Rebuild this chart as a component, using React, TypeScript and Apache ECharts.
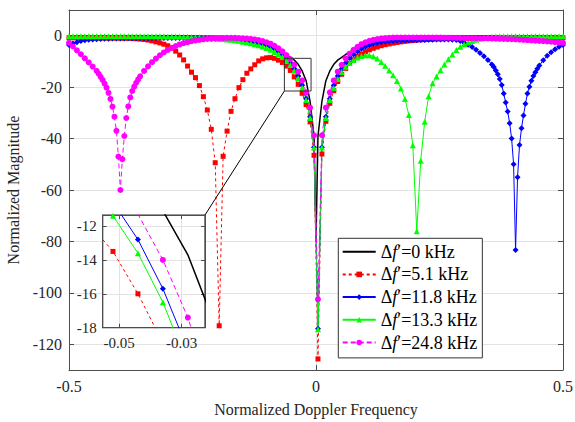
import React, { useEffect, useRef } from "react";
import * as echarts from "echarts";

// ---------- data ----------
const freq = [
  -0.5, -0.492, -0.484, -0.476, -0.468, -0.46, -0.452, -0.444, -0.436, -0.428,
  -0.42, -0.412, -0.404, -0.396, -0.388, -0.38, -0.372, -0.364, -0.356, -0.348,
  -0.34, -0.332, -0.324, -0.316, -0.308, -0.3, -0.292, -0.284, -0.276, -0.268,
  -0.26, -0.252, -0.244, -0.236, -0.228, -0.22, -0.212, -0.204, -0.196, -0.188,
  -0.18, -0.172, -0.164, -0.156, -0.148, -0.14, -0.132, -0.124, -0.116, -0.108,
  -0.1, -0.092, -0.084, -0.076, -0.068, -0.06, -0.052, -0.044, -0.036, -0.028,
  -0.02, -0.012, -0.004, 0.004, 0.012, 0.02, 0.028, 0.036, 0.044, 0.052,
  0.06, 0.068, 0.076, 0.084, 0.092, 0.1, 0.108, 0.116, 0.124, 0.132,
  0.14, 0.148, 0.156, 0.164, 0.172, 0.18, 0.188, 0.196, 0.204, 0.212,
  0.22, 0.228, 0.236, 0.244, 0.252, 0.26, 0.268, 0.276, 0.284, 0.292,
  0.3, 0.308, 0.316, 0.324, 0.332, 0.34, 0.348, 0.356, 0.364, 0.372,
  0.38, 0.388, 0.396, 0.404, 0.412, 0.42, 0.428, 0.436, 0.444, 0.452,
  0.46, 0.468, 0.476, 0.484, 0.492, 0.5,
];

const blackFreq = [
  -0.5, -0.4, -0.3, -0.25, -0.2, -0.18, -0.164, -0.148, -0.132, -0.116,
  -0.1, -0.084, -0.068, -0.06, -0.052, -0.044, -0.036, -0.028, -0.02, -0.012,
  -0.004, 0, 0.004, 0.012, 0.02, 0.028, 0.036, 0.044, 0.052, 0.06,
  0.068, 0.084, 0.1, 0.116, 0.132, 0.148, 0.164, 0.18, 0.2, 0.25,
  0.3, 0.4, 0.5,
];
const blackMag = [
  0, 0, -0.05, -0.1, -0.2, -0.35, -0.55, -0.9, -1.5, -2.2,
  -3.2, -4.6, -6.3, -7.3, -8.4, -9.5, -11.1, -13.7, -17.5, -25.5,
  -39, -80, -39, -25.5, -17.5, -13.7, -11.1, -9.5, -8.4, -7.3,
  -6.3, -4.6, -3.2, -2.2, -1.5, -0.9, -0.55, -0.35, -0.2, -0.1,
  -0.05, 0, 0,
];

const redMag = [
  -0.8, -0.8, -0.8, -0.8, -0.8, -0.8, -0.8, -0.8, -0.82, -0.84,
  -0.86, -0.88, -0.9, -0.92, -0.95, -1.0, -1.1, -1.2, -1.3, -1.45,
  -1.7, -2.0, -2.4, -2.8, -3.3, -3.9, -4.8, -6.0, -7.5, -9.4,
  -11.8, -14.2, -16.3, -19.4, -23.7, -28.9, -36.4, -49.4, -112.8, -46.9,
  -37.1, -29.4, -24.5, -20.2, -17.1, -14.6, -12.9, -11.3, -9.8, -9.0,
  -8.6, -8.5, -8.8, -9.5, -10.4, -11.8, -13.5, -16.0, -18.9, -22.4,
  -26.8, -33.5, -46.5, -125.7, -46.0, -33.3, -26.3, -21.4, -17.8, -15.0,
  -12.7, -10.8, -9.3, -8.1, -7.1, -6.2, -5.5, -4.9, -4.4, -3.9,
  -3.5, -3.2, -2.9, -2.65, -2.4, -2.2, -2.0, -1.85, -1.7, -1.6,
  -1.5, -1.4, -1.3, -1.25, -1.2, -1.15, -1.1, -1.05, -1.0, -1.0,
  -0.95, -0.95, -0.9, -0.9, -0.9, -0.88, -0.86, -0.85, -0.84, -0.83,
  -0.82, -0.82, -0.81, -0.81, -0.8, -0.8, -0.8, -0.8, -0.8, -0.8,
  -0.8, -0.8, -0.8, -0.8, -0.8, -0.8,
];

const blueMag = [
  -3.6, -3.0, -2.5, -2.1, -1.8, -1.6, -1.45, -1.35, -1.25, -1.2,
  -1.15, -1.1, -1.1, -1.05, -1.05, -1.0, -1.0, -1.0, -0.95, -0.95,
  -0.95, -0.9, -0.9, -0.9, -0.9, -0.9, -0.9, -0.9, -0.9, -0.9,
  -0.95, -0.95, -1.0, -1.0, -1.05, -1.1, -1.15, -1.2, -1.25, -1.3,
  -1.4, -1.5, -1.6, -1.7, -1.85, -2.0, -2.3, -2.5, -2.8, -3.2,
  -3.7, -4.3, -5.1, -6.1, -7.3, -8.8, -10.6, -12.8, -15.7, -19.3,
  -24.5, -31.5, -43.4, -114.0, -43.4, -31.5, -24.5, -19.3, -15.7, -12.8,
  -10.6, -8.8, -7.3, -6.1, -5.1, -4.3, -3.7, -3.2, -2.8, -2.5,
  -2.3, -2.15, -2.05, -2.0, -1.95, -1.9, -1.85, -1.8, -1.75, -1.7,
  -1.65, -1.6, -1.55, -1.5, -1.5, -1.5, -1.5, -1.55, -1.7, -2.1,
  -2.7, -3.5, -4.4, -5.5, -6.7, -8.0, -9.4, -11.2, -13.5, -16.8,
  -22.5, -29.5, -40.0, -83.3, -42.5, -31.0, -22.5, -17.5, -14.2, -11.6,
  -9.5, -7.8, -6.4, -5.3, -4.3, -3.6,
];
const blueExtraFreq = [0.36, 0.368, 0.376, 0.384, 0.392, 0.4, 0.408, 0.416, 0.424, 0.432, 0.44, 0.448];
const blueExtraMag = [-12.2, -15.0, -19.2, -26.0, -34.0, -50.0, -55.0, -36.0, -26.5, -19.8, -15.7, -12.8];

const greenMag = [
  -0.2, -0.2, -0.2, -0.2, -0.2, -0.2, -0.2, -0.2, -0.2, -0.2,
  -0.2, -0.2, -0.2, -0.2, -0.2, -0.2, -0.2, -0.2, -0.2, -0.2,
  -0.2, -0.2, -0.2, -0.22, -0.24, -0.26, -0.28, -0.3, -0.35, -0.4,
  -0.45, -0.5, -0.55, -0.6, -0.7, -0.8, -0.9, -1.0, -1.15, -1.3,
  -1.45, -1.6, -1.8, -2.0, -2.3, -2.6, -2.9, -3.3, -3.7, -4.2,
  -4.8, -5.5, -6.3, -7.2, -8.3, -9.7, -11.4, -13.6, -16.5, -20.2,
  -25.0, -32.0, -43.5, -114.2, -43.5, -32.0, -25.0, -20.3, -16.8, -14.1,
  -12.1, -10.6, -9.4, -8.5, -7.9, -7.6, -7.6, -8.0, -8.9, -10.2,
  -11.7, -13.5, -15.4, -17.6, -20.5, -24.6, -30.8, -42.6, -76.0, -48.6,
  -33.5, -23.5, -18.5, -15.9, -13.4, -11.2, -9.2, -7.3, -5.6, -4.3,
  -3.3, -2.6, -2.1, -1.6, -1.2, -0.9, -0.6, -0.4, -0.3, -0.25,
  -0.2, -0.2, -0.2, -0.2, -0.2, -0.2, -0.2, -0.2, -0.2, -0.2,
  -0.2, -0.2, -0.2, -0.2, -0.2, -0.2,
];

const magentaMag = [
  -2.8, -4.2, -5.7, -7.2, -8.8, -10.4, -12.0, -13.7, -16.0, -18.6,
  -22.2, -27.6, -37.0, -60.0, -39.0, -27.5, -21.5, -18.3, -15.8, -13.7,
  -11.9, -10.3, -8.9, -7.6, -6.5, -5.5, -4.7, -4.0, -3.4, -2.9,
  -2.5, -2.15, -1.85, -1.6, -1.4, -1.25, -1.1, -1.0, -0.95, -0.9,
  -0.85, -0.85, -0.85, -0.9, -1.0, -1.1, -1.25, -1.45, -1.7, -2.05,
  -2.6, -3.1, -3.9, -4.9, -6.1, -7.5, -9.1, -11.3, -14.0, -17.4,
  -22.0, -28.0, -38.7, -102.5, -38.7, -28.0, -22.0, -17.4, -14.0, -11.3,
  -8.8, -7.0, -5.5, -4.3, -3.3, -2.6, -2.0, -1.6, -1.3, -1.05,
  -0.9, -0.8, -0.75, -0.7, -0.7, -0.7, -0.7, -0.7, -0.7, -0.7,
  -0.7, -0.7, -0.7, -0.72, -0.74, -0.76, -0.78, -0.8, -0.82, -0.85,
  -0.88, -0.9, -0.92, -0.95, -0.98, -1.0, -1.05, -1.1, -1.15, -1.2,
  -1.25, -1.3, -1.35, -1.4, -1.5, -1.6, -1.7, -1.8, -1.9, -2.0,
  -2.1, -2.2, -2.35, -2.5, -2.65, -2.8,
];
const magentaExtraFreq = [-0.44, -0.432, -0.424, -0.416, -0.408, -0.4, -0.392, -0.384, -0.376, -0.368, -0.36];
const magentaExtraMag = [-14.8, -17.2, -20.2, -24.6, -31.5, -47.0, -48.0, -32.0, -24.0, -19.8, -17.0];

const seriesNames = ["Δf′=0 kHz", "Δf′=5.1 kHz", "Δf′=11.8 kHz", "Δf′=13.3 kHz", "Δf′=24.8 kHz"];
const legendValues = ["0", "5.1", "11.8", "13.3", "24.8"];

const xRange = [-0.5, 0.5];
const xInterval = 0.5;
const yRange = [-130, 10];
const yTicks = [-120, -100, -80, -60, -40, -20, 0];
const insetXRange = [-0.0553, -0.0225];
const insetYRange = [-18, -11.35];
const insetXTicks = [-0.05, -0.03];
const insetYTicks = [-18, -16, -14, -12];
const zoomBoxX = [-0.064, -0.01];
const zoomBoxY = [-21.5, -8.8];

// ---------- styles & layout ----------
const FONT = "Liberation Serif";
const AXIS_COLOR = "#4d4d4d";
const TEXT_COLOR = "#262626";
const GRID_COLOR = "#e3e3e3";
const MAIN_GRID = { left: 69, top: 10, width: 494, height: 360 };
const INSET_GRID = { left: 102.7, top: 215, width: 102.3, height: 112.7 };

const styles: any[] = [
  { color: "#000000", symbol: "none", size: 0, dash: "solid", width: 1.5 },
  { color: "#ff0000", symbol: "rect", size: 5, dash: [3, 3], width: 1 },
  { color: "#0000ff", symbol: "diamond", size: 6, dash: "solid", width: 1 },
  { color: "#00ff00", symbol: "triangle", size: 6, dash: "solid", width: 1 },
  { color: "#ff00ff", symbol: "circle", size: 6, dash: [5, 3], width: 1 },
];

const zip = (xs: number[], ys: number[]) => xs.map((x, i) => [x, ys[i]]);
const mergeSorted = (a: number[][], b: number[][]) => [...a, ...b].sort((p, q) => p[0] - q[0]);

const seriesData = [
  zip(blackFreq, blackMag),
  zip(freq, redMag),
  mergeSorted(zip(freq, blueMag), zip(blueExtraFreq, blueExtraMag)),
  zip(freq, greenMag),
  mergeSorted(zip(freq, magentaMag), zip(magentaExtraFreq, magentaExtraMag)),
];

const lineSeries = (i: number, name: string, xAxisIndex: number, yAxisIndex: number, z: number) => ({
  type: "line",
  name,
  data: seriesData[i],
  xAxisIndex,
  yAxisIndex,
  z,
  symbol: styles[i].symbol,
  symbolSize: styles[i].size,
  showSymbol: styles[i].symbol !== "none",
  lineStyle: { color: styles[i].color, width: styles[i].width, type: styles[i].dash },
  itemStyle: { color: styles[i].color, borderWidth: 0 },
  silent: true,
  clip: true,
  animation: false,
  emphasis: { disabled: true },
});

const labelStyle = (size: number) => ({ fontFamily: FONT, fontSize: size, color: TEXT_COLOR });

const axisBase = (gridIndex: number, min: number, max: number, position: string, extra: any) => ({
  type: "value",
  gridIndex,
  min,
  max,
  position,
  axisLine: { show: true, onZero: false, lineStyle: { color: AXIS_COLOR, width: 1 } },
  axisTick: { show: true, inside: true, length: 5, lineStyle: { color: AXIS_COLOR, width: 1 } },
  ...extra,
});

export default function App() {
  const ref = useRef<HTMLDivElement>(null);

  useEffect(() => {
    const el = ref.current!;
    const chart = echarts.init(el, null, { renderer: "svg" });

    const option: any = {
      animation: false,
      textStyle: { fontFamily: FONT },
      grid: [
        { ...MAIN_GRID, containLabel: false, outerBoundsMode: "none" },
        { ...INSET_GRID, containLabel: false, outerBoundsMode: "none" },
      ],
      legend: {
        data: seriesNames.map((name, i) =>
          i === 0 ? { name, itemStyle: { opacity: 0 } } : { name }
        ),
        orient: "vertical",
        left: 338.3,
        top: 238.3,
        backgroundColor: "#ffffff",
        borderColor: "#333333",
        borderWidth: 1,
        borderRadius: 0,
        padding: [4.4, 5, 6.4, 3.4],
        itemWidth: 33,
        itemHeight: 7,
        itemGap: 4.7,
        selectedMode: false,
        z: 20,
        textStyle: {
          fontFamily: FONT,
          fontSize: 18,
          lineHeight: 18,
          color: "#000",
          rich: {
            n: { fontFamily: FONT, fontSize: 18, color: "#000" },
            i: { fontFamily: FONT, fontSize: 18, fontStyle: "italic", color: "#000" },
          },
        },
        formatter: (name: string) => {
          const idx = seriesNames.indexOf(name);
          return `{n|Δ}{i|f}{n|′=${legendValues[idx]} kHz}`;
        },
      },
      xAxis: [
        axisBase(0, xRange[0], xRange[1], "bottom", {
          interval: xInterval,
          axisLabel: { ...labelStyle(16), margin: 8 },
          splitLine: { show: true, lineStyle: { color: GRID_COLOR, width: 1 } },
          name: "Normalized Doppler Frequency",
          nameLocation: "middle",
          nameGap: 31,
          nameTextStyle: labelStyle(16),
        }),
        axisBase(0, xRange[0], xRange[1], "top", {
          interval: xInterval,
          axisLabel: { show: false },
          splitLine: { show: false },
        }),
        axisBase(1, insetXRange[0], insetXRange[1], "bottom", {
          z: 10,
          axisTick: { show: true, inside: true, length: 4, customValues: insetXTicks, lineStyle: { color: AXIS_COLOR } },
          axisLabel: { ...labelStyle(15), margin: 8, customValues: insetXTicks },
          splitLine: { show: true, lineStyle: { color: GRID_COLOR, width: 1 } },
        }),
        axisBase(1, insetXRange[0], insetXRange[1], "top", {
          z: 10,
          axisTick: { show: true, inside: true, length: 4, customValues: insetXTicks, lineStyle: { color: AXIS_COLOR } },
          axisLabel: { show: false },
          splitLine: { show: false },
        }),
      ],
      yAxis: [
        axisBase(0, yRange[0], yRange[1], "left", {
          axisTick: { show: true, inside: true, length: 5, customValues: yTicks, lineStyle: { color: AXIS_COLOR } },
          axisLabel: { ...labelStyle(16), margin: 7, customValues: yTicks },
          splitLine: { show: true, lineStyle: { color: GRID_COLOR, width: 1 } },
          name: "Normalized Magnitude",
          nameLocation: "middle",
          nameGap: 43,
          nameTextStyle: labelStyle(16),
        }),
        axisBase(0, yRange[0], yRange[1], "right", {
          axisTick: { show: true, inside: true, length: 5, customValues: yTicks, lineStyle: { color: AXIS_COLOR } },
          axisLabel: { show: false },
          splitLine: { show: false },
        }),
        axisBase(1, insetYRange[0], insetYRange[1], "left", {
          z: 10,
          axisTick: { show: true, inside: true, length: 4, customValues: insetYTicks, lineStyle: { color: AXIS_COLOR } },
          axisLabel: { ...labelStyle(15), margin: 6, customValues: insetYTicks },
          splitLine: { show: true, lineStyle: { color: GRID_COLOR, width: 1 } },
        }),
        axisBase(1, insetYRange[0], insetYRange[1], "right", {
          z: 10,
          axisTick: { show: true, inside: true, length: 4, customValues: insetYTicks, lineStyle: { color: AXIS_COLOR } },
          axisLabel: { show: false },
          splitLine: { show: false },
        }),
      ],
      series: [
        ...seriesNames.map((n, i) => lineSeries(i, n, 0, 0, 2)),
        ...seriesNames.map((n, i) => lineSeries(i, "inset " + n, 2, 2, 12)),
      ],
    };

    chart.setOption(option);

    const main = { xAxisIndex: 0, yAxisIndex: 0 };
    const inset = { xAxisIndex: 2, yAxisIndex: 2 };
    const b0 = chart.convertToPixel(main as any, [zoomBoxX[0], zoomBoxY[1]]) as number[];
    const b1 = chart.convertToPixel(main as any, [zoomBoxX[1], zoomBoxY[0]]) as number[];
    const i0 = chart.convertToPixel(inset as any, [insetXRange[0], insetYRange[1]]) as number[];
    const i1 = chart.convertToPixel(inset as any, [insetXRange[1], insetYRange[0]]) as number[];

    chart.setOption({
      graphic: [
        {
          type: "rect",
          z: 5,
          silent: true,
          shape: { x: i0[0], y: i0[1], width: i1[0] - i0[0], height: i1[1] - i0[1] },
          style: { fill: "#ffffff", stroke: "#333333", lineWidth: 1.2 },
        },
        {
          type: "rect",
          z: 15,
          silent: true,
          shape: { x: b0[0], y: b0[1], width: b1[0] - b0[0], height: b1[1] - b0[1] },
          style: { fill: "none", stroke: "#333333", lineWidth: 1 },
        },
        {
          type: "line",
          z: 15,
          silent: true,
          shape: { x1: b0[0], y1: b1[1], x2: i1[0], y2: i0[1] },
          style: { stroke: "#000000", lineWidth: 1 },
        },
      ],
    });

    return () => chart.dispose();
  }, []);

  return (
    <div
      ref={ref}
      style={{ position: "absolute", left: 0, top: 0, width: 575, height: 422, background: "#ffffff" }}
    />
  );
}
